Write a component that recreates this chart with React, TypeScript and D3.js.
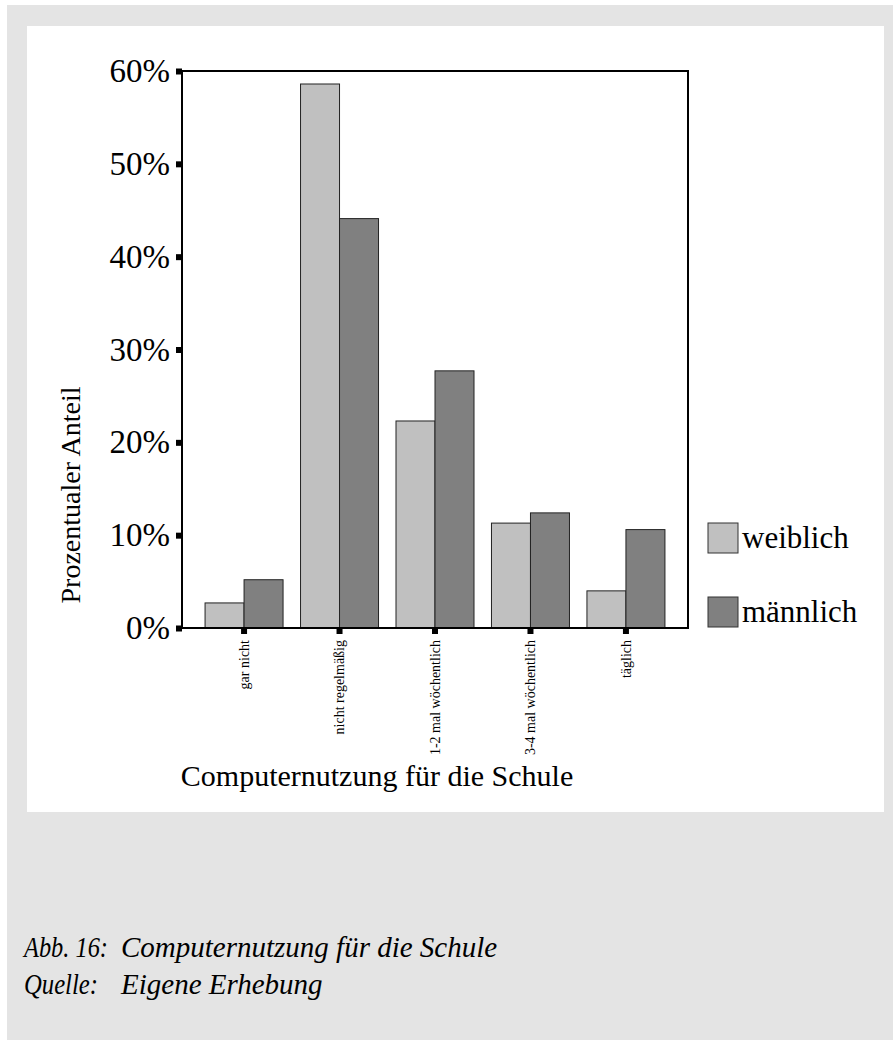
import React, { useEffect, useRef } from "react";
import * as d3 from "d3";

// Kategorien der Computernutzung
const categories = [
  "gar nicht",
  "nicht regelmäßig",
  "1-2 mal wöchentlich",
  "3-4 mal wöchentlich",
  "täglich",
];
const seriesNames = ["weiblich", "männlich"];
// Prozentwerte je Geschlecht
const weiblich = [2.7, 58.6, 22.3, 11.3, 4.0];
const maennlich = [5.2, 44.1, 27.7, 12.4, 10.6];
const yTicks = [0, 10, 20, 30, 40, 50, 60];

const seriesColors = ["#c0c0c0", "#808080"];
const FONT = "'Liberation Serif', 'Times New Roman', serif";

const W = 893;
const H = 1040;

const App: React.FC = () => {
  const svgRef = useRef<SVGSVGElement>(null);

  useEffect(() => {
    if (!svgRef.current) return;
    const svg = d3.select(svgRef.current);
    svg.selectAll("*").remove();

    // Hintergrund
    svg.append("rect").attr("x", 7).attr("y", 5).attr("width", W - 7).attr("height", H - 5).attr("fill", "#e4e4e4");
    svg.append("rect").attr("x", 27).attr("y", 26).attr("width", 857).attr("height", 786).attr("fill", "#ffffff");

    const plot = { left: 182, top: 71, right: 688, bottom: 628 };

    const x0 = d3
      .scaleBand<string>()
      .domain(categories)
      .range([plot.left, plot.right])
      .paddingInner(0)
      .paddingOuter(0.15);
    const x1 = d3.scaleBand<string>().domain(seriesNames).range([-39, 39]);
    const y = d3.scaleLinear().domain([0, 60]).range([plot.bottom, plot.top]);

    const rows = categories.map((c, i) => ({
      cat: c,
      values: [weiblich[i], maennlich[i]],
    }));

    // Balken
    const groups = svg
      .append("g")
      .selectAll("g")
      .data(rows)
      .enter()
      .append("g")
      .attr("transform", (d) => `translate(${(x0(d.cat) || 0) + x0.bandwidth() / 2},0)`);

    groups
      .selectAll("rect")
      .data((d) => d.values.map((v, i) => ({ v, s: seriesNames[i], i })))
      .enter()
      .append("rect")
      .attr("x", (d) => x1(d.s) || 0)
      .attr("y", (d) => y(d.v))
      .attr("width", x1.bandwidth())
      .attr("height", (d) => y(0) - y(d.v))
      .attr("fill", (d) => seriesColors[d.i])
      .attr("stroke", "#222")
      .attr("stroke-width", 1);

    // Rahmen
    svg
      .append("rect")
      .attr("x", plot.left)
      .attr("y", plot.top)
      .attr("width", plot.right - plot.left)
      .attr("height", plot.bottom - plot.top)
      .attr("fill", "none")
      .attr("stroke", "#000")
      .attr("stroke-width", 2);

    // Y-Achse
    const yAxis = svg
      .append("g")
      .attr("transform", `translate(${plot.left},0)`)
      .call(
        d3
          .axisLeft(y)
          .tickValues(yTicks)
          .tickSize(6)
          .tickPadding(6)
          .tickFormat((d) => `${d}%`)
      );
    yAxis.select(".domain").remove();
    yAxis.selectAll("line").attr("stroke", "#000").attr("stroke-width", 6);
    yAxis
      .selectAll("text")
      .attr("fill", "#000")
      .style("font-family", FONT)
      .style("font-size", "33px");

    // X-Achse
    const xAxis = svg
      .append("g")
      .attr("transform", `translate(0,${plot.bottom})`)
      .call(d3.axisBottom(x0).tickSize(6).tickSizeOuter(0));
    xAxis.select(".domain").remove();
    xAxis.selectAll("line").attr("stroke", "#000").attr("stroke-width", 6);
    xAxis
      .selectAll("text")
      .attr("fill", "#000")
      .attr("transform", "rotate(-90)")
      .attr("x", -12)
      .attr("y", 0)
      .attr("dy", "0.35em")
      .style("text-anchor", "end")
      .style("font-family", FONT)
      .style("font-size", "14px");

    // Achsentitel
    svg
      .append("text")
      .attr("transform", "translate(80,495) rotate(-90)")
      .attr("text-anchor", "middle")
      .style("font-family", FONT)
      .style("font-size", "28px")
      .text("Prozentualer Anteil");

    svg
      .append("text")
      .attr("x", 377)
      .attr("y", 786)
      .attr("text-anchor", "middle")
      .style("font-family", FONT)
      .style("font-size", "30px")
      .text("Computernutzung für die Schule");

    // Legende
    const legend = svg.append("g").attr("transform", "translate(708,523)");
    seriesNames.forEach((name, i) => {
      legend
        .append("rect")
        .attr("x", 0)
        .attr("y", i * 74)
        .attr("width", 30)
        .attr("height", 30)
        .attr("fill", seriesColors[i])
        .attr("stroke", "#333")
        .attr("stroke-width", 1);
      legend
        .append("text")
        .attr("x", 34)
        .attr("y", i * 74 + 25)
        .style("font-family", FONT)
        .style("font-size", "31px")
        .text(name);
    });

    // Bildunterschrift
    const caption = svg
      .append("g")
      .style("font-family", FONT)
      .style("font-style", "italic")
      .style("font-size", "29px");
    caption
      .append("text")
      .attr("x", 24)
      .attr("y", 957)
      .attr("textLength", 84)
      .attr("lengthAdjust", "spacingAndGlyphs")
      .text("Abb. 16:");
    caption.append("text").attr("x", 121).attr("y", 957).text("Computernutzung für die Schule");
    caption
      .append("text")
      .attr("x", 24)
      .attr("y", 994)
      .attr("textLength", 74)
      .attr("lengthAdjust", "spacingAndGlyphs")
      .text("Quelle:");
    caption.append("text").attr("x", 121).attr("y", 994).text("Eigene Erhebung");
  }, []);

  return (
    <div style={{ position: "absolute", left: 0, top: 0 }}>
      <svg ref={svgRef} width={W} height={H} style={{ display: "block" }} />
    </div>
  );
};

export default App;
